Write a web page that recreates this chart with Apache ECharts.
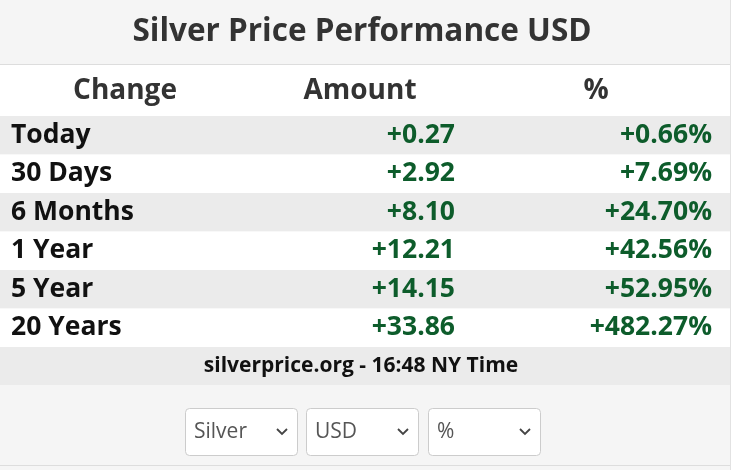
<!doctype html>
<html>
<head>
<meta charset="UTF-8">
<title>Silver Price Performance USD</title>
<script src="https://cdn.jsdelivr.net/npm/echarts@6/dist/echarts.min.js"></script>
<style>
  html, body { margin: 0; padding: 0; background: #fff; }
  #chart { width: 741px; height: 470px; }
</style>
</head>
<body>
<div id="chart"></div>
<script>
var title = 'Silver Price Performance USD';
var headers = ['Change', 'Amount', '%'];
var periods = ['Today', '30 Days', '6 Months', '1 Year', '5 Year', '20 Years'];
var amounts = ['+0.27', '+2.92', '+8.10', '+12.21', '+14.15', '+33.86'];
var percents = ['+0.66%', '+7.69%', '+24.70%', '+42.56%', '+52.95%', '+482.27%'];
var footer = 'silverprice.org - 16:48 NY Time';
var selects = ['Silver', 'USD', '%'];

var font = '"Open Sans", sans-serif';
var W = 730;
var rowTop = 116, rowH = 38.5;
var green = '#0d5c2b';

var els = [];
// backgrounds
els.push({ type: 'rect', shape: { x: 0, y: 0, width: W, height: 470 }, style: { fill: '#f5f5f5' } });
els.push({ type: 'rect', shape: { x: 0, y: 64, width: W, height: 52 }, style: { fill: '#ffffff' } });
els.push({ type: 'line', shape: { x1: 0, y1: 64.5, x2: W, y2: 64.5 }, style: { stroke: '#dddddd', lineWidth: 1 } });
els.push({ type: 'line', shape: { x1: W + 0.5, y1: 0, x2: W + 0.5, y2: 470 }, style: { stroke: '#e2e2e2', lineWidth: 1 } });
els.push({ type: 'text', x: 362, y: 32, style: { text: title, font: 'bold 31.5px ' + font, fill: '#333333', align: 'center', verticalAlign: 'middle' } });

var headX = [125, 360, 596];
headers.forEach(function(h, i) {
  els.push({ type: 'text', x: headX[i], y: 91, style: { text: h, font: 'bold 28px ' + font, fill: '#333333', align: 'center', verticalAlign: 'middle' } });
});

periods.forEach(function(p, i) {
  var y = rowTop + i * rowH;
  els.push({ type: 'rect', shape: { x: 0, y: y, width: W, height: rowH }, style: { fill: i % 2 === 0 ? '#ebebeb' : '#ffffff' } });
  var cy = y + rowH / 2;
  els.push({ type: 'text', x: 11, y: cy, style: { text: p, font: 'bold 26.5px ' + font, fill: '#111111', align: 'left', verticalAlign: 'middle' } });
  els.push({ type: 'text', x: 455, y: cy, style: { text: amounts[i], font: 'bold 26.5px ' + font, fill: green, align: 'right', verticalAlign: 'middle' } });
  els.push({ type: 'text', x: 712, y: cy, style: { text: percents[i], font: 'bold 26.5px ' + font, fill: green, align: 'right', verticalAlign: 'middle' } });
});

var fy = rowTop + periods.length * rowH;
els.push({ type: 'rect', shape: { x: 0, y: fy, width: W, height: 38 }, style: { fill: '#ebebeb' } });
els.push({ type: 'text', x: 361, y: fy + 19, style: { text: footer, font: 'bold 21px ' + font, fill: '#111111', align: 'center', verticalAlign: 'middle' } });
els.push({ type: 'line', shape: { x1: 0, y1: 465.5, x2: W, y2: 465.5 }, style: { stroke: '#dddddd', lineWidth: 1 } });

var selX = [185, 306, 428];
selects.forEach(function(s, i) {
  var x = selX[i];
  els.push({ type: 'rect', shape: { x: x + 0.5, y: 408.5, width: 112, height: 47, r: 4 }, style: { fill: '#ffffff', stroke: '#cccccc', lineWidth: 1 } });
  els.push({ type: 'text', x: x + 9, y: 432, style: { text: s, font: '21px ' + font, fill: '#555555', align: 'left', verticalAlign: 'middle' } });
  els.push({ type: 'polyline', shape: { points: [[x + 92, 429], [x + 97, 434], [x + 102, 429]] }, style: { stroke: '#444444', lineWidth: 1.8, fill: null } });
});

var chart = echarts.init(document.getElementById('chart'));
chart.setOption({ animation: false, graphic: { elements: els } });
</script>
</body>
</html>
